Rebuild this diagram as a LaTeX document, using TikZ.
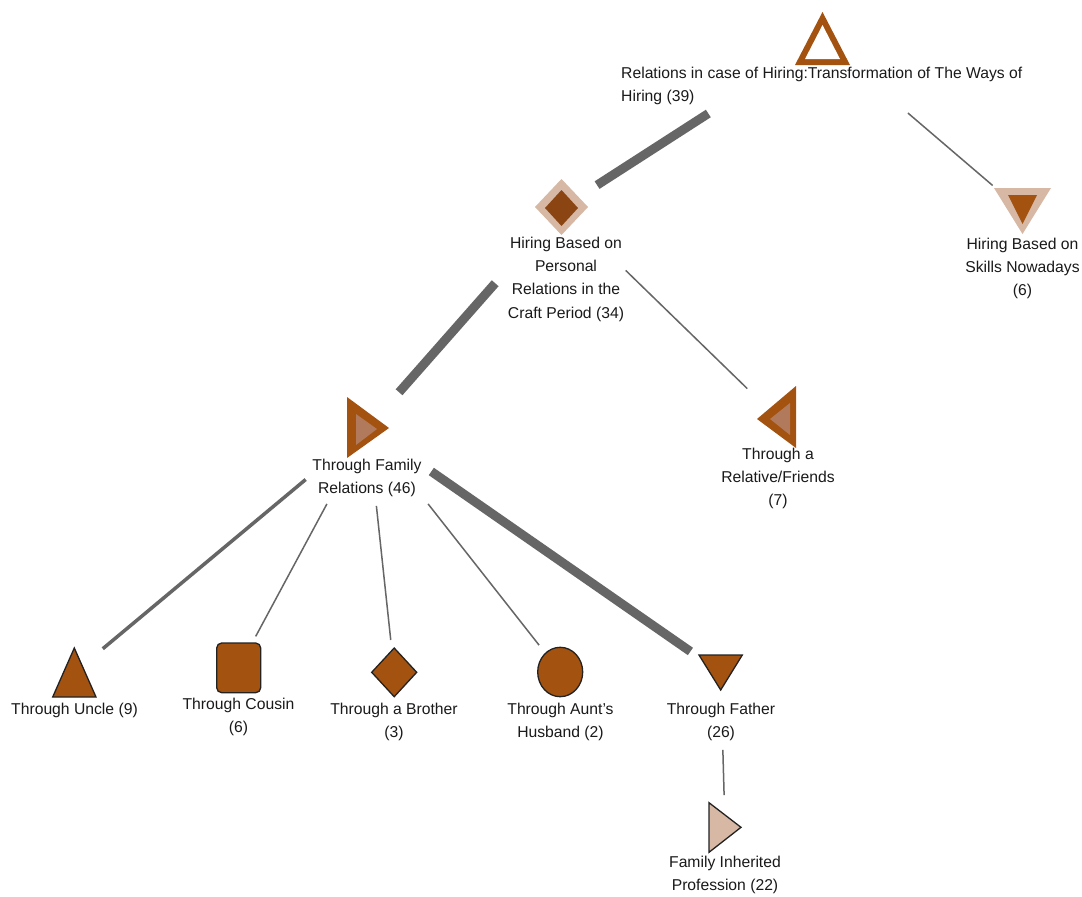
\documentclass[tikz,border=0pt]{standalone}
\usepackage{fontspec}
\setmainfont{Liberation Sans}
\begin{document}
\begin{tikzpicture}[x=1pt,y=-1pt,
  lbl/.style={font=\fontsize{15.7}{23.3}\selectfont, text=txtc, align=center, inner sep=0pt, anchor=north},
  edgethin/.style={draw=edgec, line width=1.5pt},
  edgemid/.style={draw=edgec, line width=3.5pt},
  edgethick/.style={draw=edgec, line width=9pt},
  leaf/.style={fill=brownc, draw=outc, line width=1.3pt, line join=miter}]
\definecolor{brownc}{HTML}{A3520F}
\definecolor{darkc}{HTML}{8B4513}
\definecolor{tanc}{HTML}{D6B8A4}
\definecolor{lightc}{HTML}{B27A5C}
\definecolor{edgec}{HTML}{666666}
\definecolor{outc}{HTML}{222222}
\definecolor{txtc}{HTML}{1A1A1A}
\useasboundingbox[fill=white] (0,0) rectangle (1082,897);

% ---- node centres ----
\coordinate (root) at (822.5,40);
\coordinate (hb) at (561.5,208);
\coordinate (skills) at (1022.5,211);
\coordinate (fam) at (368,427.5);
\coordinate (rel) at (776.5,417);
\coordinate (uncle) at (74.3,672.5);
\coordinate (cousin) at (238.7,668);
\coordinate (brother) at (394.2,672.3);
\coordinate (aunt) at (560.2,672);
\coordinate (father) at (720.7,672.5);
\coordinate (inh) at (725,827.5);

% ---- connectors ----
\draw[edgethick, shorten <=135.8pt, shorten >=42.3pt] (root) -- (hb);
\draw[edgethin, shorten <=112.4pt, shorten >=39.3pt] (root) -- (skills);
\draw[edgethick, shorten <=100.3pt, shorten >=47pt] (hb) -- (fam);
\draw[edgethin, shorten <=89.5pt, shorten >=40.7pt] (hb) -- (rel);
\draw[edgemid, shorten <=81.2pt, shorten >=37.1pt] (fam) -- (uncle);
\draw[edgethin, shorten <=86.8pt, shorten >=35.9pt] (fam) -- (cousin);
\draw[edgethin, shorten <=78.9pt, shorten >=32.5pt] (fam) -- (brother);
\draw[edgethin, shorten <=97.2pt, shorten >=34.2pt] (fam) -- (aunt);
\draw[edgethick, shorten <=77.1pt, shorten >=36.9pt] (fam) -- (father);
\draw[edgethin, shorten <=77.5pt, shorten >=32.5pt] (father) -- (inh);

% ---- shapes ----
% root: outlined upward triangle
\fill[brownc] (822.5,12) -- (795,65) -- (850,65) -- cycle;
\fill[white] (822.5,25) -- (805,59) -- (840,59) -- cycle;
% personal relations: double diamond
\fill[tanc] (561.5,179) -- (588,207) -- (561.5,235) -- (535,207) -- cycle;
\fill[darkc] (561.5,190) -- (578,208) -- (561.5,226) -- (545,208) -- cycle;
% skills: double downward triangle
\fill[tanc] (994,188) -- (1051,188) -- (1022.5,234) -- cycle;
\fill[brownc] (1008,195) -- (1037,195) -- (1022.5,224) -- cycle;
% family relations: right-pointing triangle
\fill[brownc] (347,397) -- (389,428) -- (347,458) -- cycle;
\fill[lightc] (356,414) -- (377,429) -- (356,445) -- cycle;
% relative/friends: left-pointing triangle
\fill[brownc] (796,386) -- (757,419) -- (796,448) -- cycle;
\fill[lightc] (790,403) -- (770,419) -- (790,435) -- cycle;
% leaves
\draw[leaf] (74.3,648) -- (96,697) -- (52.7,697) -- cycle;
\draw[leaf, rounded corners=5pt] (216.7,643) rectangle (260.7,692.7);
\draw[leaf] (394.2,648) -- (416.7,672.3) -- (394.2,696.7) -- (371.7,672.3) -- cycle;
\draw[leaf] (aunt) ellipse [x radius=22.5pt, y radius=24.7pt];
\draw[leaf] (699,655) -- (742.3,655) -- (720.7,690) -- cycle;
\draw[fill=tanc, draw=outc, line width=1.3pt] (709,802.7) -- (741,827.3) -- (709,852.3) -- cycle;

% ---- labels ----
\node[lbl, align=left, anchor=north west] (rootlbl) at (621,66.6)
  {Relations in case of Hiring:Transformation of The Ways of\\Hiring (39)};
\node[lbl] (hblbl) at (566,236.6) {Hiring Based on\\Personal\\Relations in the\\Craft Period (34)};
\node[lbl] (skillslbl) at (1022.5,237.6) {Hiring Based on\\Skills Nowadays\\(6)};
\node[lbl] (famlbl) at (367,458.6) {Through Family\\Relations (46)};
\node[lbl] (rellbl) at (778,447.6) {Through a\\Relative/Friends\\(7)};
\node[lbl] (unclelbl) at (74.5,702.6) {Through Uncle (9)};
\node[lbl] (cousinlbl) at (238.5,697.6) {Through Cousin\\(6)};
\node[lbl] (brotherlbl) at (394,702.6) {Through a Brother\\(3)};
\node[lbl] (auntlbl) at (560.5,702.6) {Through Aunt's\\Husband (2)};
\node[lbl] (fatherlbl) at (721,702.6) {Through Father\\(26)};
\node[lbl] (inhlbl) at (725,855.6) {Family Inherited\\Profession (22)};
\end{tikzpicture}
\end{document}
